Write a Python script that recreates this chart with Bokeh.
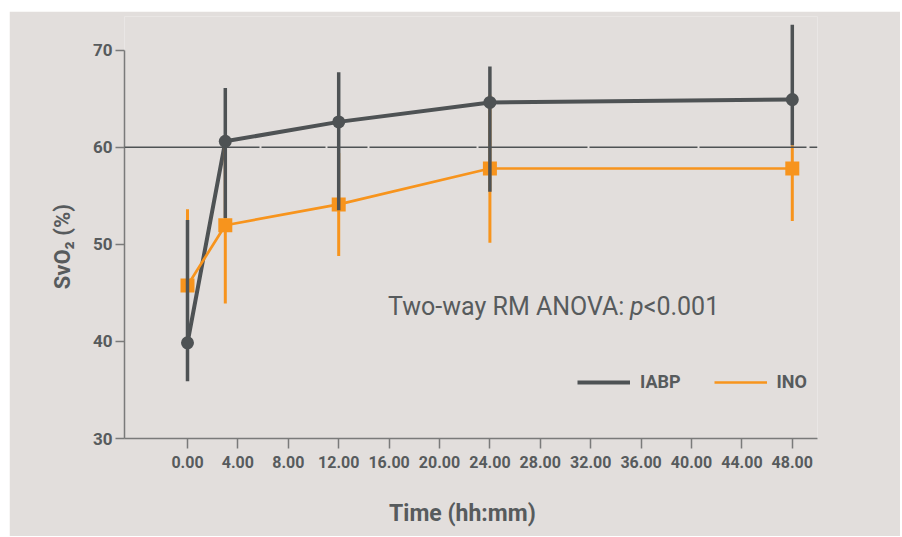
from bokeh.plotting import figure
from bokeh.models import Span, Legend, LegendItem, Label, FixedTicker, Spacer
from bokeh.layouts import row, column
from bokeh.embed import file_html
from bokeh.resources import INLINE

# ---- data ----
time_h = [0, 3, 12, 24, 48]
iabp_mean = [39.85, 60.6, 62.6, 64.6, 64.9]
iabp_low = [35.9, 52.7, 53.5, 55.4, 60.2]
iabp_high = [52.5, 66.1, 67.7, 68.3, 72.6]
ino_mean = [45.75, 51.96, 54.1, 57.8, 57.8]
ino_low = [37.9, 43.9, 48.8, 50.15, 52.4]
ino_high = [53.6, 60.0, 59.4, 65.4, 60.2]
x_ticks = [0, 4, 8, 12, 16, 20, 24, 28, 32, 36, 40, 44, 48]
x_tick_labels = ["0.00", "4.00", "8.00", "12.00", "16.00", "20.00", "24.00",
                 "28.00", "32.00", "36.00", "40.00", "44.00", "48.00"]
y_ticks = [30, 40, 50, 60, 70]
ref_level = 60
series_names = ["IABP", "INO"]

BG = "#e2dedc"
GREY = "#4e5254"
ORANGE = "#f7941d"
TXT = "#575b5d"
AXIS = "#7a7a7a"
FONT = "Roboto"
NB = "\u00a0"

p = figure(width=891, height=525, x_range=(-5, 50), y_range=(30, 73.45),
           output_backend="svg", toolbar_location=None,
           min_border_left=115, min_border_right=83, min_border_top=5,
           min_border_bottom=98)
p.background_fill_color = BG
p.border_fill_color = BG
p.outline_line_color = None
p.xgrid.visible = False
p.ygrid.visible = False

# reference line at 60 (long dashes with tiny gaps, as in the original)
p.add_layout(Span(location=ref_level, dimension="width", line_color=GREY,
                  line_width=1.5, line_dash="135 2 64 2 40 2 107 2 109 2 108 2 107 3 20"))

# glyphs
grey_line = p.line(time_h, iabp_mean, line_color=GREY, line_width=4)
p.segment(time_h, ino_low, time_h, ino_high, line_color=ORANGE, line_width=3)
orange_line = p.line(time_h, ino_mean, line_color=ORANGE, line_width=2.7)
p.scatter(time_h, ino_mean, marker="square", size=14, fill_color=ORANGE,
          line_color=None)
p.segment(time_h, iabp_low, time_h, iabp_high, line_color=GREY, line_width=3.5)
p.scatter(time_h, iabp_mean, marker="circle", size=13, fill_color=GREY,
          line_color=None)

# axes
for ax in (p.xaxis[0], p.yaxis[0]):
    ax.axis_line_color = AXIS
    ax.axis_line_width = 1.5
    ax.major_tick_line_color = AXIS
    ax.major_tick_line_width = 1.5
    ax.minor_tick_line_color = None
    ax.major_tick_in = 0
    ax.major_label_text_color = TXT
    ax.major_label_text_font = FONT
    ax.major_label_text_font_style = "bold"
    ax.axis_label_text_color = TXT
    ax.axis_label_text_font = FONT
    ax.axis_label_text_font_style = "bold"

p.xaxis.ticker = FixedTicker(ticks=x_ticks)
p.xaxis.major_label_overrides = dict(zip(x_ticks, x_tick_labels))
p.xaxis.major_tick_out = 10
p.xaxis.major_label_standoff = 7
p.xaxis.major_label_text_font_size = "16px"
p.xaxis.axis_label = "Time (hh:mm)" + NB * 3
p.xaxis.axis_label_text_font_size = "23px"
p.xaxis.axis_label_standoff = 29

p.yaxis.ticker = FixedTicker(ticks=y_ticks)
p.yaxis.bounds = (30, 70)
p.yaxis.major_tick_out = 9
p.yaxis.major_label_standoff = 3
p.yaxis.major_label_text_font_size = "17px"
p.yaxis.axis_label = "SvO\u2082 (%)" + NB * 7
p.yaxis.axis_label_text_font_size = "22px"
p.yaxis.axis_label_standoff = 15

# legend
legend = Legend(items=[LegendItem(label=series_names[0], renderers=[grey_line]),
                       LegendItem(label=series_names[1], renderers=[orange_line])],
                orientation="horizontal", location=(453, 46),
                background_fill_alpha=0, border_line_color=None,
                glyph_width=53, glyph_height=20, label_height=20,
                label_standoff=10, spacing=33, padding=0, margin=0,
                label_text_font=FONT, label_text_font_style="bold",
                label_text_font_size="18px", label_text_color=TXT)
p.add_layout(legend)

# annotation
ann_y = 43.6
ann_size = "25px"
p.add_layout(Label(x=15.92, y=ann_y, text="Two-way RM ANOVA:", text_font=FONT,
                   text_font_size=ann_size, text_color=TXT, text_baseline="middle"))
p.add_layout(Label(x=36.2, y=ann_y, text="p", text_font=FONT,
                   text_font_size=ann_size, text_font_style="italic",
                   text_color=TXT, text_baseline="middle", text_align="right"))
p.add_layout(Label(x=42.2, y=ann_y, text="<0.001", text_font=FONT,
                   text_font_size=ann_size, text_color=TXT, text_baseline="middle",
                   text_align="right"))

layout = column(Spacer(height=11), row(Spacer(width=9), p))
open("out.html", "w").write(file_html(layout, INLINE))
